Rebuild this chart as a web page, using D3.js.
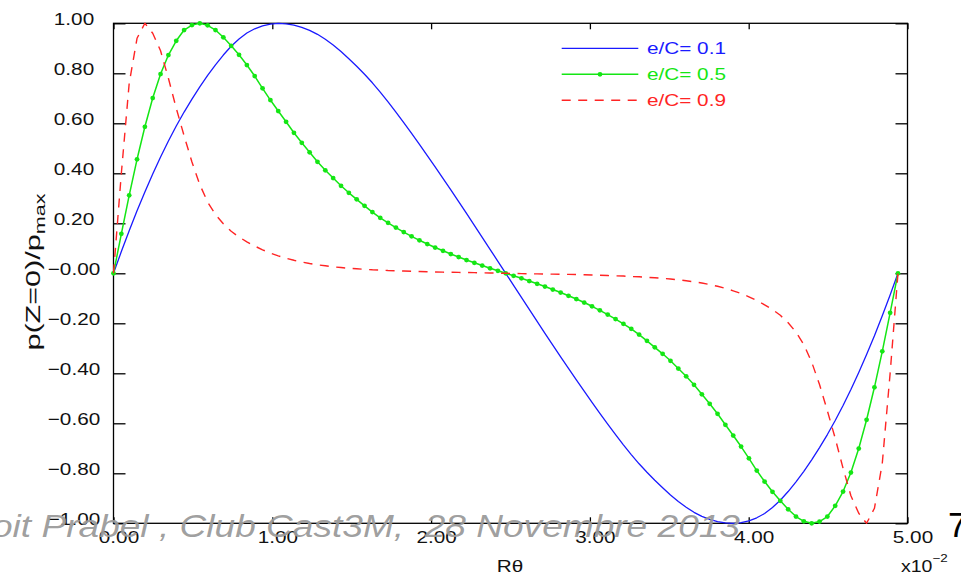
<!DOCTYPE html>
<html>
<head>
<meta charset="utf-8">
<script src="https://cdn.jsdelivr.net/npm/d3@7"></script>
<style>
  html, body { margin: 0; padding: 0; background: #fff; overflow: hidden; }
  svg { display: block; }
</style>
</head>
<body>
<svg id="chart" width="961" height="576"></svg>
<script>
// Abscissa R·theta (x10^-2), 101 stations around the bearing
const rTheta = [
  0, 0.0494, 0.0988, 0.1482, 0.1976, 0.247, 0.2964, 0.3458, 0.3952, 0.4446,
  0.494, 0.5434, 0.5928, 0.6422, 0.6916, 0.741, 0.7904, 0.8398, 0.8892, 0.9386,
  0.988, 1.0374, 1.0868, 1.1362, 1.1856, 1.235, 1.2844, 1.3338, 1.3832, 1.4326,
  1.482, 1.5314, 1.5808, 1.6302, 1.6796, 1.729, 1.7784, 1.8278, 1.8772, 1.9266,
  1.976, 2.0254, 2.0748, 2.1242, 2.1736, 2.223, 2.2724, 2.3218, 2.3712, 2.4206,
  2.47, 2.5194, 2.5688, 2.6182, 2.6676, 2.717, 2.7664, 2.8158, 2.8652, 2.9146,
  2.964, 3.0134, 3.0628, 3.1122, 3.1616, 3.211, 3.2604, 3.3098, 3.3592, 3.4086,
  3.458, 3.5074, 3.5568, 3.6062, 3.6556, 3.705, 3.7544, 3.8038, 3.8532, 3.9026,
  3.952, 4.0014, 4.0508, 4.1002, 4.1496, 4.199, 4.2484, 4.2978, 4.3472, 4.3966,
  4.446, 4.4954, 4.5448, 4.5942, 4.6436, 4.693, 4.7424, 4.7918, 4.8412, 4.8906,
  4.94
];

// Normalised film pressure p(Z=0)/pmax, e/C = 0.1
const pBlue = [
  0, 0.087, 0.170, 0.250, 0.325, 0.397, 0.465, 0.529, 0.589, 0.645,
  0.697, 0.746, 0.792, 0.834, 0.873, 0.908, 0.937, 0.961, 0.978, 0.990,
  0.997, 1.000, 0.998, 0.993, 0.984, 0.972, 0.956, 0.936, 0.913, 0.887,
  0.858, 0.828, 0.796, 0.762, 0.725, 0.686, 0.645, 0.603, 0.560, 0.516,
  0.471, 0.426, 0.380, 0.334, 0.287, 0.240, 0.192, 0.144, 0.096, 0.048,
  0,
  -0.048, -0.096, -0.144, -0.192, -0.240, -0.287, -0.334, -0.380, -0.426, -0.471,
  -0.516, -0.560, -0.603, -0.645, -0.686, -0.725, -0.762, -0.796, -0.828, -0.858,
  -0.887, -0.913, -0.936, -0.956, -0.972, -0.984, -0.993, -0.998, -1.000, -0.997,
  -0.990, -0.978, -0.961, -0.937, -0.908, -0.873, -0.834, -0.792, -0.746, -0.697,
  -0.645, -0.589, -0.529, -0.465, -0.397, -0.325, -0.250, -0.170, -0.087, 0
];

// e/C = 0.5
const pGreen = [
  0, 0.158, 0.312, 0.456, 0.586, 0.701, 0.797, 0.873, 0.930, 0.973,
  0.993, 1.000, 0.992, 0.973, 0.944, 0.910, 0.874, 0.833, 0.789, 0.740,
  0.693, 0.649, 0.606, 0.562, 0.522, 0.484, 0.446, 0.412, 0.381, 0.350,
  0.322, 0.296, 0.270, 0.245, 0.222, 0.202, 0.183, 0.165, 0.148, 0.132,
  0.117, 0.103, 0.090, 0.077, 0.065, 0.053, 0.042, 0.031, 0.020, 0.010,
  0,
  -0.010, -0.020, -0.031, -0.042, -0.053, -0.065, -0.077, -0.090, -0.103, -0.117,
  -0.132, -0.148, -0.165, -0.183, -0.202, -0.222, -0.245, -0.270, -0.296, -0.322,
  -0.350, -0.381, -0.412, -0.446, -0.484, -0.522, -0.562, -0.606, -0.649, -0.693,
  -0.740, -0.789, -0.833, -0.874, -0.910, -0.944, -0.973, -0.992, -1.000, -0.993,
  -0.973, -0.930, -0.873, -0.797, -0.701, -0.586, -0.456, -0.312, -0.158, 0
];

// e/C = 0.9
const pRed = [
  0, 0.40, 0.76, 0.94, 1.00, 0.96, 0.89, 0.78, 0.66, 0.55,
  0.445, 0.355, 0.285, 0.235, 0.198, 0.168, 0.145, 0.126, 0.109, 0.094,
  0.081, 0.070, 0.060, 0.052, 0.045, 0.039, 0.034, 0.030, 0.026, 0.023,
  0.020, 0.018, 0.016, 0.014, 0.013, 0.011, 0.010, 0.009, 0.008, 0.007,
  0.006, 0.005, 0.0045, 0.004, 0.0035, 0.003, 0.0025, 0.002, 0.0013, 0.0006,
  0,
  -0.0006, -0.0013, -0.002, -0.0025, -0.003, -0.0035, -0.004, -0.0045, -0.005, -0.006,
  -0.007, -0.008, -0.009, -0.010, -0.011, -0.013, -0.014, -0.016, -0.018, -0.020,
  -0.023, -0.026, -0.030, -0.034, -0.039, -0.045, -0.052, -0.060, -0.070, -0.081,
  -0.094, -0.109, -0.126, -0.145, -0.168, -0.198, -0.235, -0.285, -0.355, -0.445,
  -0.55, -0.66, -0.78, -0.89, -0.96, -1.00, -0.94, -0.76, -0.40, 0
];

const seriesNames = ["e/C= 0.1", "e/C= 0.5", "e/C= 0.9"];
const yTickValues = [1, 0.8, 0.6, 0.4, 0.2, 0, -0.2, -0.4, -0.6, -0.8, -1];
const yTickLabels = ["1.00", "0.80", "0.60", "0.40", "0.20", "\u22120.00",
  "\u22120.20", "\u22120.40", "\u22120.60", "\u22120.80", "\u22121.00"];
const xTickValues = [0, 1, 2, 3, 4, 5];
const xTickLabels = ["0.00", "1.00", "2.00", "3.00", "4.00", "5.00"];

const FONT = '"Liberation Sans", Arial, Helvetica, sans-serif';
const HS = 1.22;   // the figure's lettering is drawn horizontally widened

const svg = d3.select("#chart");
const plot = { left: 113.5, right: 907.5, top: 23.3, bottom: 523.3 };

const x = d3.scaleLinear().domain([0, 5]).range([plot.left, plot.right]);
const y = d3.scaleLinear().domain([-1, 1]).range([plot.bottom, plot.top]);

const series = [
  { name: seriesNames[0], values: pBlue,  color: "#1a1aff", dash: null,    dots: false, width: 1.3 },
  { name: seriesNames[1], values: pGreen, color: "#14e614", dash: null,    dots: true,  width: 1.5 },
  { name: seriesNames[2], values: pRed,   color: "#ff2424", dash: "9,7.5", dots: false, width: 1.4 }
];

// ---- axes: inward ticks on all four sides ----
function styleTicks(g) {
  g.select(".domain").remove();
  g.selectAll(".tick text").remove();
  g.selectAll(".tick line").attr("stroke", "#000").attr("stroke-width", 1.3);
}
svg.append("g").attr("transform", `translate(${plot.left},0)`)
  .call(d3.axisLeft(y).tickValues(yTickValues).tickSize(-12).tickSizeOuter(0)).call(styleTicks);
svg.append("g").attr("transform", `translate(${plot.right},0)`)
  .call(d3.axisRight(y).tickValues(yTickValues).tickSize(-12).tickSizeOuter(0)).call(styleTicks);
svg.append("g").attr("transform", `translate(0,${plot.top})`)
  .call(d3.axisTop(x).tickValues(xTickValues).tickSize(-6).tickSizeOuter(0)).call(styleTicks);
svg.append("g").attr("transform", `translate(0,${plot.bottom})`)
  .call(d3.axisBottom(x).tickValues(xTickValues).tickSize(-6).tickSizeOuter(0)).call(styleTicks);

// frame
svg.append("rect")
  .attr("x", plot.left).attr("y", plot.top)
  .attr("width", plot.right - plot.left).attr("height", plot.bottom - plot.top)
  .attr("fill", "none").attr("stroke", "#000").attr("stroke-width", 1.3);

// tick labels
svg.append("g").selectAll("text").data(yTickValues).join("text")
  .attr("transform", d => `translate(74,${y(d) + 1.5}) scale(${HS},1)`)
  .attr("text-anchor", "middle")
  .attr("font-family", FONT).attr("font-size", 17).attr("fill", "#111")
  .text((d, i) => yTickLabels[i]);

svg.append("g").selectAll("text").data(xTickValues).join("text")
  .attr("transform", d => `translate(${x(d) + 5.5},542.5) scale(${HS},1)`)
  .attr("text-anchor", "middle")
  .attr("font-family", FONT).attr("font-size", 17).attr("fill", "#111")
  .text((d, i) => xTickLabels[i]);

// axis titles
svg.append("text")
  .attr("transform", `translate(510,572) scale(${HS},1)`)
  .attr("text-anchor", "middle")
  .attr("font-family", FONT).attr("font-size", 17).attr("fill", "#111")
  .text("R\u03b8");

const mult = svg.append("text")
  .attr("transform", `translate(901,572) scale(${HS},1)`)
  .attr("font-family", FONT).attr("font-size", 16).attr("fill", "#111");
mult.append("tspan").text("x10");
mult.append("tspan").attr("font-size", 11).attr("dy", -10).text("\u22122");

// vertical title, lettering stretched along its run
const yTitle = svg.append("text")
  .attr("transform", `translate(40,272) scale(${HS},1) rotate(-90) scale(1.8,1)`)
  .attr("text-anchor", "middle")
  .attr("font-family", FONT).attr("font-size", 17).attr("fill", "#111");
yTitle.append("tspan").text("p(Z=0)/p");
yTitle.append("tspan").attr("font-size", 12).attr("dy", 4).text("max");

// ---- curves ----
const line = d3.line()
  .x((d, i) => x(rTheta[i]))
  .y(d => y(d));

const curves = svg.append("g");
series.forEach(s => {
  curves.append("path")
    .datum(s.values)
    .attr("d", line)
    .attr("fill", "none")
    .attr("stroke", s.color)
    .attr("stroke-width", s.width)
    .attr("stroke-dasharray", s.dash)
    .attr("stroke-linejoin", "round");
  if (s.dots) {
    curves.append("g").selectAll("circle").data(s.values).join("circle")
      .attr("cx", (d, i) => x(rTheta[i]))
      .attr("cy", d => y(d))
      .attr("r", 2.4)
      .attr("fill", s.color);
  }
});

// ---- legend ----
const legend = svg.append("g");
series.forEach((s, k) => {
  const ly = 48.3 + k * 26;
  legend.append("line")
    .attr("x1", 561.7).attr("x2", 638.3).attr("y1", ly).attr("y2", ly)
    .attr("stroke", s.color).attr("stroke-width", s.width)
    .attr("stroke-dasharray", s.dash);
  if (s.dots) {
    legend.append("circle").attr("cx", 600).attr("cy", ly).attr("r", 2.4).attr("fill", s.color);
  }
  legend.append("text")
    .attr("transform", `translate(647,${ly + 6}) scale(${HS},1)`)
    .attr("font-family", FONT).attr("font-size", 17).attr("fill", s.color)
    .text(s.name);
});

// ---- slide footer over the figure ----
svg.append("text")
  .attr("transform", "translate(740,536.5) scale(1.17,1)")
  .attr("text-anchor", "end")
  .style("white-space", "pre")
  .attr("font-family", FONT).attr("font-size", 31.7).attr("font-style", "italic")
  .attr("fill", "#9a9a9a").attr("fill-opacity", 0.95)
  .text("Benoit Prabel , Club Cast3M,  28 Novembre 2013");

svg.append("text")
  .attr("x", 948).attr("y", 537)
  .attr("font-family", FONT).attr("font-size", 35).attr("fill", "#000")
  .text("7");
</script>
</body>
</html>
